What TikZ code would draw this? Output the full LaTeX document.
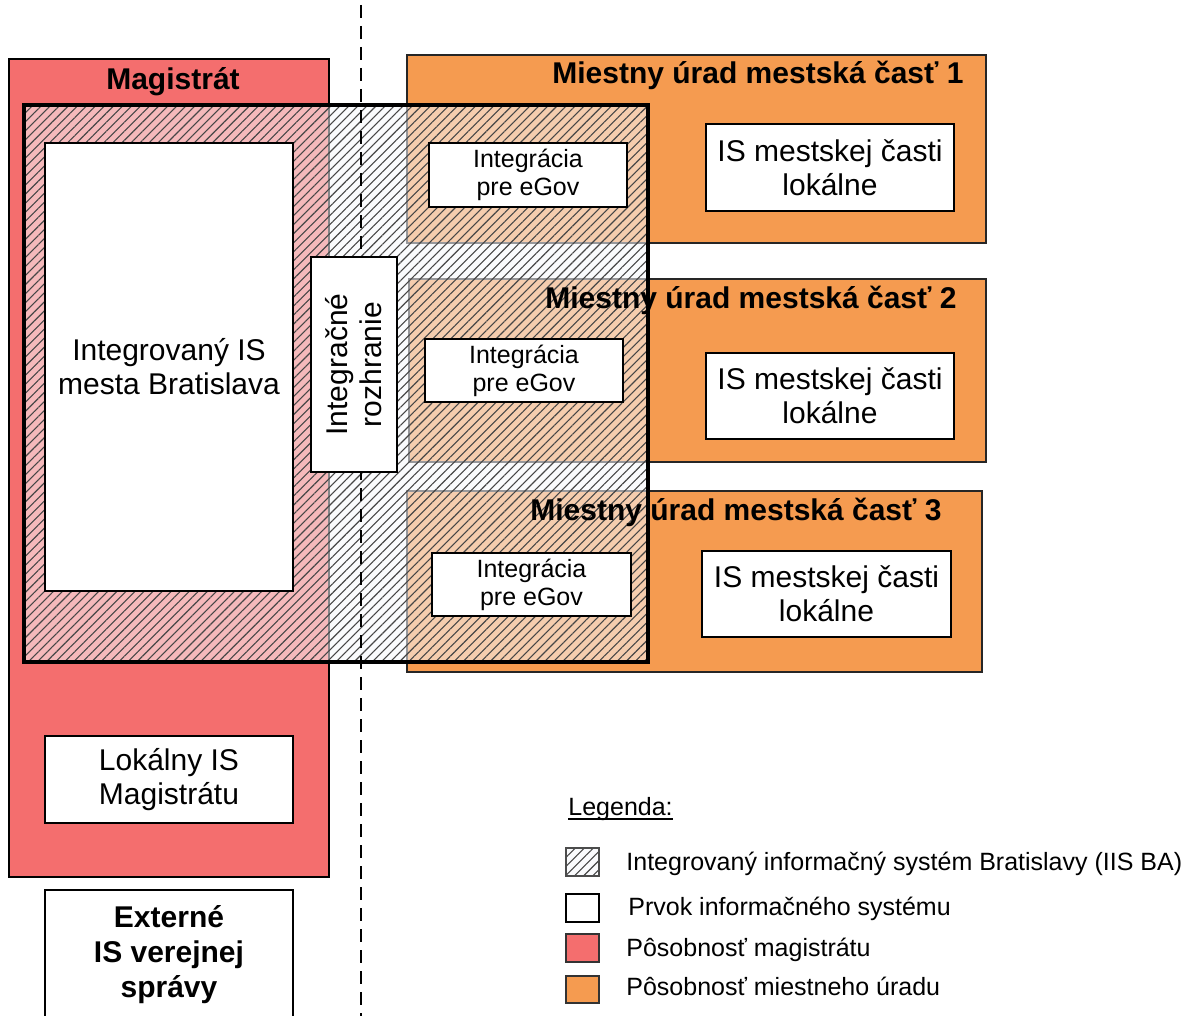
\documentclass[tikz,border=0pt]{standalone}
\usepackage{fontspec}
\setmainfont{Liberation Sans}
\usetikzlibrary{patterns.meta}
\definecolor{magred}{RGB}{244,110,110}
\definecolor{urorange}{RGB}{245,155,80}
\definecolor{hatchcol}{RGB}{70,70,70}
\definecolor{iisbase}{RGB}{246,247,252}
\tikzset{
  gridfill/.style={preaction={fill=#1}},
  magarea/.style={gridfill=magred, draw=black, line width=0.8pt},
  urarea/.style={gridfill=urorange, draw=black!85, line width=0.8pt},
  iisfill/.style={
    preaction={fill=iisbase, fill opacity=0.55},
    preaction={pattern={Lines[angle=45,distance=3.2pt,line width=0.55pt]},pattern color=hatchcol}},
  iisborder/.style={draw=black, line width=1.6pt},
  wbox/.style={draw=black, fill=white, line width=0.8pt, inner sep=0pt, align=center,
    font=\fontsize{15pt}{17pt}\selectfont},
  sbox/.style={wbox, font=\fontsize{12.5pt}{14pt}\selectfont},
  headlbl/.style={font=\bfseries\fontsize{15pt}{17pt}\selectfont, inner sep=0pt},
  boldtxt/.style={font=\bfseries\fontsize{15pt}{17.5pt}\selectfont, align=center, inner sep=0pt},
  legtext/.style={font=\fontsize{12.5pt}{14pt}\selectfont, inner sep=0pt},
  divider/.style={draw=black, line width=0.8pt, dash pattern=on 6.5pt off 4pt},
}
\begin{document}
\begin{tikzpicture}[x=0.5pt,y=-0.5pt]
\useasboundingbox (0,0) rectangle (1184,1016);
\clip (0,0) rectangle (1184,1016);
% Magistrat area
\path[magarea] (9,59) rectangle (329,877);
% Miestne urady
\path[urarea] (407,55) rectangle (986,243);
\path[urarea] (409,279) rectangle (986,462);
\path[urarea] (407,491) rectangle (982,672);
% IIS BA hatched area
\path[iisfill] (24,105) rectangle (648,662);
% headings
\node[headlbl, anchor=base] (magl) at (173,90) {Magistrát};
\node[headlbl, anchor=base] (mu1) at (758,84) {Miestny úrad mestská časť 1};
\node[headlbl, anchor=base] (mu2) at (751,309) {Miestny úrad mestská časť 2};
\node[headlbl, anchor=base] (mu3) at (736,520) {Miestny úrad mestská časť 3};
% IIS border
\draw[iisborder] (24,105) rectangle (648,662);
% divider
\coordinate (dtop) at (361,5);
\coordinate (dbot) at (361,1016);
\draw[divider] (dtop) -- (dbot);
% white boxes
\node[wbox, minimum width=124pt, minimum height=224pt] (iisba) at (169,367) {Integrovaný IS\\mesta Bratislava};
\node[wbox, minimum width=107.5pt, minimum height=43pt, rotate=90] (rozhr) at (354,364.5) {Integračné\\rozhranie};
\node[sbox, minimum width=99pt, minimum height=32pt] (ieg1) at (528,175) {Integrácia\\pre eGov};
\node[wbox, minimum width=124pt, minimum height=43.5pt] (ism1) at (830,167.5) {IS mestskej časti\\lokálne};
\node[sbox, minimum width=99pt, minimum height=31.5pt] (ieg2) at (524,370.5) {Integrácia\\pre eGov};
\node[wbox, minimum width=124pt, minimum height=43pt] (ism2) at (830,396) {IS mestskej časti\\lokálne};
\node[sbox, minimum width=99.5pt, minimum height=31.5pt] (ieg3) at (531.5,584.5) {Integrácia\\pre eGov};
\node[wbox, minimum width=124.5pt, minimum height=43pt] (ism3) at (826.5,594) {IS mestskej časti\\lokálne};
\node[wbox, minimum width=124pt, minimum height=43.5pt] (lokal) at (169,779.5) {Lokálny IS\\Magistrátu};
\node[wbox, minimum width=124pt, minimum height=80pt] (extbox) at (169,970) {};
\node[boldtxt] (extxt) at (169,955) {Externé\\IS verejnej\\správy};
% legend
\node[legtext, anchor=base west] (leg) at (568,815) {Legenda:};
\draw[line width=0.6pt] ([yshift=-2pt]leg.base west) -- ([yshift=-2pt]leg.base east);
\path[iisfill, draw=black!70, line width=0.6pt] (566,848) rectangle (599,876);
\draw[black, line width=0.8pt, fill=white] (566,894) rectangle (599,922);
\path[gridfill=magred, draw=black!80, line width=0.6pt] (566,934) rectangle (599,962);
\path[gridfill=urorange, draw=black!80, line width=0.6pt] (566,976) rectangle (599,1003);
\node[legtext, anchor=base west] (lg1) at (626,870) {Integrovaný informačný systém Bratislavy (IIS BA)};
\node[legtext, anchor=base west] (lg2) at (628,915) {Prvok informačného systému};
\node[legtext, anchor=base west] (lg3) at (626,956) {Pôsobnosť magistrátu};
\node[legtext, anchor=base west] (lg4) at (626,995) {Pôsobnosť miestneho úradu};
\end{tikzpicture}
\end{document}
